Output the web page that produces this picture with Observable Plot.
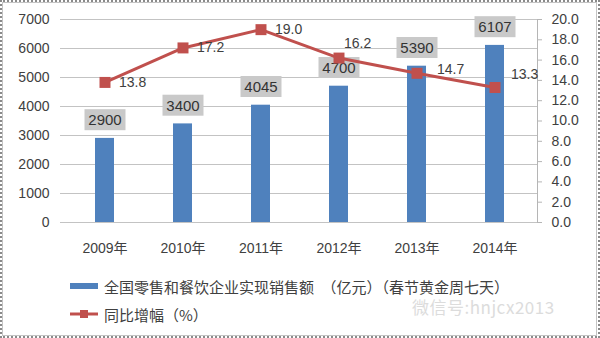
<!DOCTYPE html>
<html><head><meta charset="utf-8">
<script src="https://cdn.jsdelivr.net/npm/d3@7"></script>
<script src="https://cdn.jsdelivr.net/npm/@observablehq/plot@0.6"></script>
<style>
body{margin:0;background:#fff;}
#wrap{position:relative;width:600px;height:338px;overflow:hidden;background:#fff;font-family:"Liberation Sans","Noto Sans CJK SC",sans-serif;color:#404040;}
#chart{position:absolute;left:0;top:0;}
.outer{position:absolute;left:0;top:0;right:0;bottom:0;border:2px dotted #8a8a8a;pointer-events:none;}
.inner{position:absolute;left:2px;top:2px;right:3px;bottom:2px;border:1px solid #c4c4c4;pointer-events:none;}
.leg{position:absolute;left:70px;height:20px;display:flex;align-items:center;font-size:15px;font-family:"Noto Sans CJK SC",sans-serif;white-space:nowrap;}
.leg svg{margin-right:6px;}
.wm{position:absolute;left:412px;top:294px;font-size:17px;color:#dcdcdc;font-family:"Noto Sans CJK SC",sans-serif;letter-spacing:0.5px;}
</style></head>
<body>
<div id="wrap">
  <div id="chart"></div>
  <div class="leg" style="top:276px;"><svg width="28" height="8"><rect x="0" y="1" width="28" height="6" fill="#4f81bd"/></svg><span id="l1"></span></div>
  <div class="leg" style="top:304px;"><svg width="28" height="10"><line x1="0" x2="28" y1="5" y2="5" stroke="#c0504d" stroke-width="3"/><rect x="10" y="1" width="8" height="8" fill="#c0504d"/></svg><span id="l2"></span></div>
  <div class="wm">微信号:hnjcx2013</div>
  <div class="outer"></div>
  <div class="inner"></div>
</div>
<script>
const years = ["2009年", "2010年", "2011年", "2012年", "2013年", "2014年"];
const sales = [2900, 3400, 4045, 4700, 5390, 6107];
const growth = [13.8, 17.2, 19.0, 16.2, 14.7, 13.3];
const leftTicks = [0, 1000, 2000, 3000, 4000, 5000, 6000, 7000];
const rightTicks = [0, 2, 4, 6, 8, 10, 12, 14, 16, 18, 20];
const seriesNames = ["全国零售和餐饮企业实现销售额　（亿元）（春节黄金周七天）", "同比增幅（%）"];

document.getElementById("l1").textContent = seriesNames[0];
document.getElementById("l2").textContent = seriesNames[1];

const k = 7000 / 20; // right axis (0–20) mapped onto left axis (0–7000)
const data = years.map((y, i) => ({year: y, sales: sales[i], growth: growth[i]}));
const gy = d => d.growth * k;
const lineLabel = (ys, dx, dy) => Plot.text(data.filter(d => ys.includes(d.year)), {
  x: "year", y: gy, text: d => d.growth.toFixed(1), textAnchor: "start", dx, dy, fontSize: 14, fill: "#404040"
});

const plot = Plot.plot({
  width: 600, height: 270,
  marginLeft: 60, marginRight: 63, marginTop: 19, marginBottom: 48,
  style: {fontFamily: '"Liberation Sans","Noto Sans CJK SC",sans-serif', fontSize: "14px", color: "#404040", background: "transparent"},
  x: {type: "band", domain: years, paddingInner: 0.76, paddingOuter: 0.38, insetLeft: 4, insetRight: 2, label: null},
  y: {domain: [0, 7000], label: null},
  marks: [
    Plot.ruleY(leftTicks, {stroke: "#c3c3c3"}),
    Plot.frame({anchor: "right", stroke: "#b5b5b5"}),
    Plot.axisY({ticks: leftTicks, tickSize: 0, tickPadding: 11, label: null, tickFormat: d => String(d), fontSize: 14}),
    Plot.axisY({anchor: "right", ticks: rightTicks.map(v => v * k), tickFormat: v => (v / k).toFixed(1), tickSize: 4, tickPadding: 10, stroke: "#b5b5b5", label: null, fontSize: 14}),
    Plot.axisX({tickSize: 0, tickPadding: 21, label: null, fontSize: 14}),
    Plot.barY(data, {x: "year", y: "sales", fill: "#4f81bd"}),
    Plot.text(data, {x: "year", y: "sales", text: d => String(d.sales), dy: -18, fontSize: 15, fill: "#333"}),
    Plot.line(data, {x: "year", y: gy, stroke: "#c0504d", strokeWidth: 3}),
    Plot.dot(data, {x: "year", y: gy, symbol: "square", r: 6.2, fill: "#c0504d", stroke: "none"}),
    lineLabel(["2009年", "2010年", "2011年"], 14, 0),
    lineLabel(["2012年"], 5, -15),
    lineLabel(["2013年"], 20, -4),
    lineLabel(["2014年"], 16, -13)
  ]
});
document.getElementById("chart").appendChild(plot);

// grey boxes behind the bar value labels
const g = plot.querySelector('g[aria-label="text"]');
if (g) {
  g.querySelectorAll("text").forEach(t => {
    const b = t.getBBox();
    const r = document.createElementNS("http://www.w3.org/2000/svg", "rect");
    const cx = b.x + b.width / 2, cy = b.y + b.height / 2;
    r.setAttribute("x", cx - 20.5);
    r.setAttribute("y", cy - 10.5);
    r.setAttribute("width", 41);
    r.setAttribute("height", 21);
    r.setAttribute("fill", "#c9c9c9");
    if (t.getAttribute("transform")) r.setAttribute("transform", t.getAttribute("transform"));
    g.insertBefore(r, t);
  });
}
</script>
</body></html>
